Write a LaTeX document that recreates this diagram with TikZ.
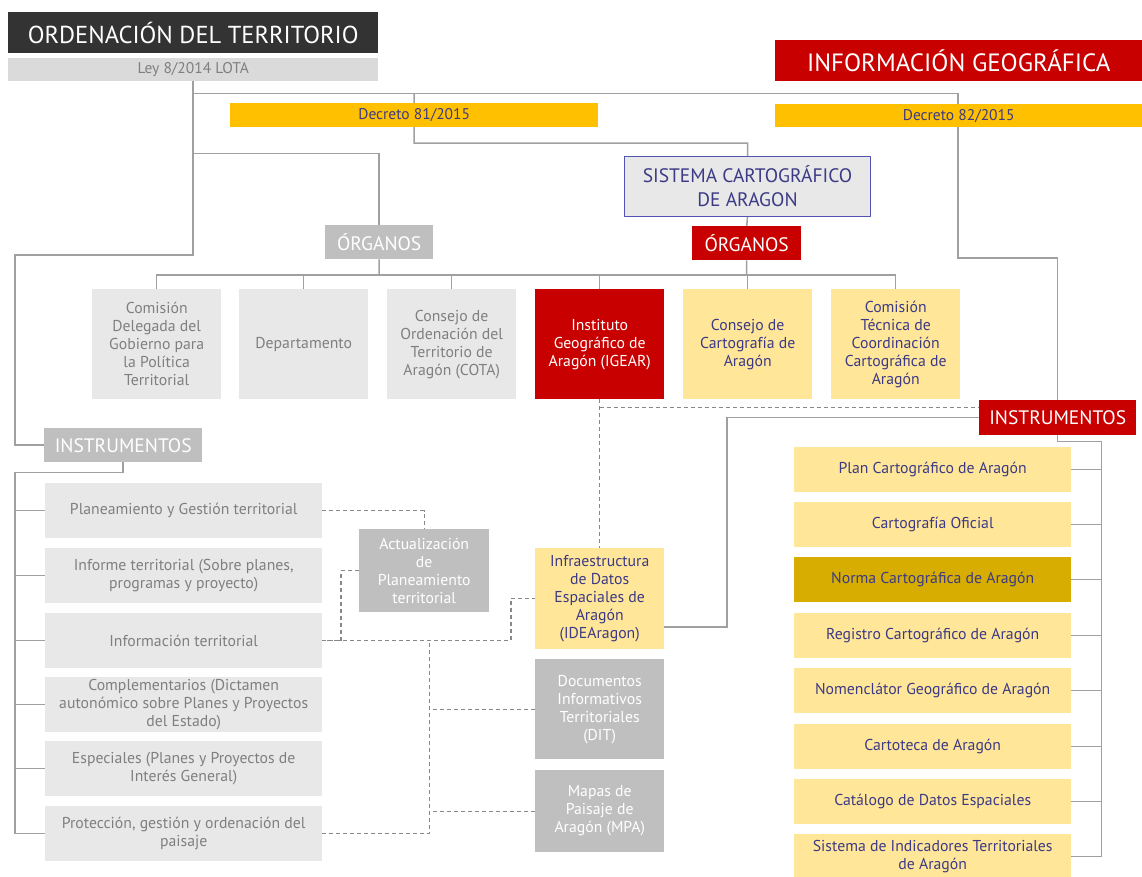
\documentclass[tikz,border=0pt]{standalone}
\usepackage{fontspec}
\setmainfont{PT Sans}
\usetikzlibrary{backgrounds,calc}
\definecolor{darkbar}{HTML}{333333}
\definecolor{leygray}{HTML}{DADADA}
\definecolor{boxgray}{HTML}{E8E8E8}
\definecolor{midgray}{HTML}{BFBFBF}
\definecolor{txtgray}{HTML}{7F7F7F}
\definecolor{aragonred}{HTML}{C80000}
\definecolor{decyellow}{HTML}{FFC000}
\definecolor{lightyellow}{HTML}{FFE699}
\definecolor{goldbox}{HTML}{D6AD00}
\definecolor{txtblue}{HTML}{3C3A85}
\definecolor{frameblue}{HTML}{5252B0}
\definecolor{linegray}{HTML}{A0A0A0}
\begin{document}
\begin{tikzpicture}[x=1pt, y=-1pt, line join=round,
  box/.style={anchor=north west, inner sep=1pt, align=center, font=\fontsize{15.75}{18}\selectfont},
  sz/.style 2 args={minimum width=#1, minimum height=#2},
  greybox/.style={box, fill=boxgray, text=txtgray},
  midbox/.style={box, fill=midgray, text=white},
  yelbox/.style={box, fill=lightyellow, text=txtblue},
  redbox/.style={box, fill=aragonred, text=white},
  head/.style={font=\fontsize{19.5}{22}\selectfont},
  conn/.style={draw=linegray, line width=1.5pt},
  dconn/.style={draw=linegray!85!black, line width=1.2pt, dash pattern=on 4pt off 3pt}]
\useasboundingbox (0,0) rectangle (1142,876);
% cabeceras
\node[box, sz={370}{41}, fill=darkbar, text=white, font=\fontsize{24.5}{28}\selectfont] (titulo) at (8,12) {ORDENACIÓN DEL TERRITORIO};
\node[box, sz={370}{23}, fill=leygray, text=txtgray, font=\fontsize{15.5}{16}\selectfont] (ley) at (8,58) {Ley 8/2014 LOTA};
\node[redbox, sz={367}{41}, font=\fontsize{25}{28}\selectfont] (infogeo) at (775,40) {INFORMACIÓN GEOGRÁFICA};
\node[box, sz={368}{24}, fill=decyellow, text=txtblue, font=\fontsize{15.5}{16}\selectfont] (dec81) at (230,103) {Decreto 81/2015};
\node[box, sz={367}{23}, fill=decyellow, text=txtblue, font=\fontsize{15.5}{16}\selectfont] (dec82) at (775,104) {Decreto 82/2015};
\node[box, sz={246}{60}, fill=boxgray, draw=frameblue, line width=1pt, text=txtblue, font=\fontsize{19.5}{24}\selectfont] (sca) at (624,156) {SISTEMA CARTOGRÁFICO\\DE ARAGON};
\node[midbox, sz={108}{34}, head] (orgA) at (325,225) {ÓRGANOS};
\node[redbox, sz={109}{34}, head] (orgB) at (692,226) {ÓRGANOS};
% organos
\node[greybox, sz={129}{110}] (r1) at (92,289) {Comisión\\Delegada del\\Gobierno para\\la Política\\Territorial};
\node[greybox, sz={129}{110}] (r2) at (239,289) {Departamento};
\node[greybox, sz={129}{110}] (r3) at (387,289) {Consejo de\\Ordenación del\\Territorio de\\Aragón (COTA)};
\node[redbox, sz={129}{110}] (r4) at (535,289) {Instituto\\Geográfico de\\Aragón (IGEAR)};
\node[yelbox, sz={129}{110}] (r5) at (683,289) {Consejo de\\Cartografía de\\Aragón};
\node[yelbox, sz={129}{110}] (r6) at (831,289) {Comisión\\Técnica de\\Coordinación\\Cartográfica de\\Aragón};
\node[midbox, sz={158}{34}, head] (instA) at (44,428) {INSTRUMENTOS};
\node[redbox, sz={157}{35}, head] (instB) at (979,400) {INSTRUMENTOS};
% instrumentos de ordenacion
\node[greybox, sz={277}{55}] (l1) at (45,483) {Planeamiento y Gestión territorial};
\node[greybox, sz={277}{55}] (l2) at (45,548) {Informe territorial (Sobre planes,\\programas y proyecto)};
\node[greybox, sz={277}{55}] (l3) at (45,613) {Información territorial};
\node[greybox, sz={277}{55}] (l4) at (45,677) {Complementarios (Dictamen\\autonómico sobre Planes y Proyectos\\del Estado)};
\node[greybox, sz={277}{55}] (l5) at (45,741) {Especiales (Planes y Proyectos de\\Interés General)};
\node[greybox, sz={277}{55}] (l6) at (45,806) {Protección, gestión y ordenación del\\paisaje};
\node[midbox, sz={130}{83}] (act) at (359,529) {Actualización\\de\\Planeamiento\\territorial};
\node[yelbox, sz={129}{101}] (ide) at (535,548) {Infraestructura\\de Datos\\Espaciales de\\Aragón\\(IDEAragon)};
\node[midbox, sz={129}{100}] (dit) at (535,659) {Documentos\\Informativos\\Territoriales\\(DIT)};
\node[midbox, sz={129}{82}] (mpa) at (535,770) {Mapas de\\Paisaje de\\Aragón (MPA)};
% instrumentos cartograficos
\node[yelbox, sz={277}{45}] (g1) at (794,447) {Plan Cartográfico de Aragón};
\node[yelbox, sz={277}{45}] (g2) at (794,502) {Cartografía Oficial};
\node[yelbox, sz={277}{45}, fill=goldbox] (g3) at (794,557) {Norma Cartográfica de Aragón};
\node[yelbox, sz={277}{45}] (g4) at (794,613) {Registro Cartográfico de Aragón};
\node[yelbox, sz={277}{45}] (g5) at (794,668) {Nomenclátor Geográfico de Aragón};
\node[yelbox, sz={277}{45}] (g6) at (794,724) {Cartoteca de Aragón};
\node[yelbox, sz={277}{45}] (g7) at (794,779) {Catálogo de Datos Espaciales};
\node[yelbox, sz={277}{45}] (g8) at (794,834) {Sistema de Indicadores Territoriales\\de Aragón};
\coordinate (jley) at (15,255);
\coordinate (jdec) at (958,258);
\coordinate (jsca) at (414,143);
\coordinate (jide) at (727,627);
\coordinate (jr4) at ($(r4.south)+(0,8)$);
\begin{scope}[on background layer]
\draw[conn] (ley.south) |- (jley) |- (instA.west);
\draw[conn] (ley.south) ++(0,72) -| (orgA.north);
\draw[conn] (ley.south) ++(0,12) -| (jdec) -| (instB.north);
\draw[conn] (dec81.north) ++(0,-10) -- (jsca) -| (sca.north);
\draw[conn] (sca.south) -- (orgB.north) (orgA.south) -- ++(0,16) (orgB.south) -- ++(0,15);
\draw[conn] (r1.north) -- ++(0,-14) -| (r6.north);
\foreach \n in {r2,r3,r4,r5} \draw[conn] (\n.north) -- ++(0,-14);
\draw[conn] (instA.south) -- ++(0,10) -| ($(l6.west)+(-30,0)$) -- (l6.west);
\foreach \n in {l1,l2,l3,l4,l5} \draw[conn] (\n.west) -- ++(-30,0);
\draw[conn] (instB.south) -- ++(0,6) -| ($(g8.east)+(30,0)$) -- (g8.east);
\foreach \n in {g1,g2,g3,g4,g5,g6,g7} \draw[conn] (\n.east) -- ++(30,0);
\draw[conn] (instB.west) -| (jide) -- (jide -| ide.east);
% enlaces discontinuos
\draw[dconn] (r4.south) -- (ide.north);
\draw[dconn] (jr4) -- (jr4 -| instB.west);
\draw[dconn] (l1.east) -| (act.north);
\draw[dconn] (act.west) -- ++(-18,0) |- (l3.east);
\draw[dconn] (l3.east) -| ($(ide.west)+(-24,0)$) -- (ide.west);
\draw[dconn] (l6.east) -| ($(l3.east)+(107,0)$);
\draw[dconn] (dit.west) -- ++(-106,0) (mpa.west) -- ++(-106,0);
\end{scope}
\end{tikzpicture}
\end{document}
